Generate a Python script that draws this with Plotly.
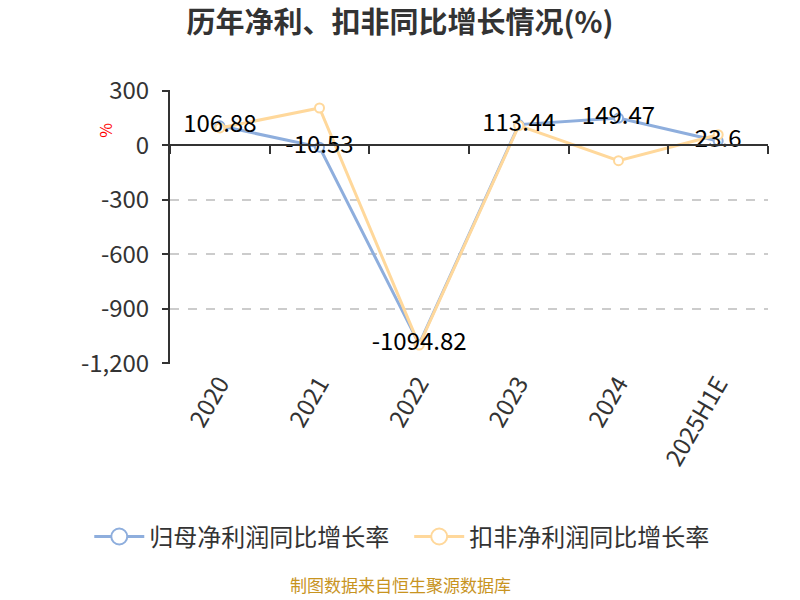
import plotly.graph_objects as go

years = ["2020", "2021", "2022", "2023", "2024", "2025H1E"]
guimu_growth = [106.88, -10.53, -1094.82, 113.44, 149.47, 23.6]
koufei_growth = [95, 205, -1100, 108, -85, 58]
y_ticks = [300, 0, -300, -600, -900, -1200]
y_ticktext = ["300", "0", "-300", "-600", "-900", "-1,200"]

blue = "#8eaedd"
orange = "#ffd89b"
font_cn = "Noto Sans CJK SC"
name_guimu = "归母净利润同比增长率"
name_koufei = "扣非净利润同比增长率"

fig = go.Figure()

fig.add_trace(go.Scatter(
    x=years, y=guimu_growth, name=name_guimu, showlegend=False,
    mode="lines+markers",
    line=dict(color=blue, width=3),
    marker=dict(size=9, color="white", line=dict(color=blue, width=2)),
))
fig.add_trace(go.Scatter(
    x=years, y=koufei_growth, name=name_koufei, showlegend=False,
    mode="lines+markers",
    line=dict(color=orange, width=3),
    marker=dict(size=9, color="white", line=dict(color=orange, width=2)),
))
# 数据标签放在最上层
fig.add_trace(go.Scatter(
    x=years, y=guimu_growth, mode="text", showlegend=False,
    text=[f"{v:g}" for v in guimu_growth],
    textposition="middle center",
    textfont=dict(size=24, color="#000000", family=font_cn),
    hoverinfo="skip",
))

# 图例用的空系列（图例里的圆圈更大）
fig.add_trace(go.Scatter(
    x=[None], y=[None], name=name_guimu, legend="legend",
    mode="lines+markers", line=dict(color=blue, width=3),
    marker=dict(size=16, color="white", line=dict(color=blue, width=2)),
))
fig.add_trace(go.Scatter(
    x=[None], y=[None], name=name_koufei, legend="legend2",
    mode="lines+markers", line=dict(color=orange, width=3),
    marker=dict(size=16, color="white", line=dict(color=orange, width=2)),
))

# 零线上的刻度轴
fig.add_trace(go.Scatter(x=[0], y=[0], xaxis="x2", yaxis="y", mode="none",
                         showlegend=False, hoverinfo="skip"))

legend_style = dict(orientation="h", yanchor="middle", y=-0.631,
                    font=dict(size=24, color="#333333"), itemwidth=50,
                    bgcolor="rgba(0,0,0,0)")

fig.update_layout(
    width=800, height=600,
    plot_bgcolor="white", paper_bgcolor="white",
    margin=dict(l=170, r=32, t=90, b=236),
    font=dict(family=font_cn, size=20, color="#333333"),
    title=dict(text="<b>历年净利、扣非同比增长情况(%)</b>", x=0.5, xanchor="center",
               y=0.962, yanchor="middle",
               font=dict(family=font_cn, size=29, color="#333333")),
    xaxis=dict(
        type="category", range=[-0.5, 5.5],
        showline=False, showgrid=False, ticks="",
        tickangle=-60, tickfont=dict(size=24, color="#333333"),
    ),
    xaxis2=dict(
        overlaying="x", anchor="free", position=0.8, side="bottom",
        range=[-0.5, 5.5], showline=True, linecolor="#333333", linewidth=2,
        tickvals=[-0.5, 0.5, 1.5, 2.5, 3.5, 4.5, 5.5], showticklabels=False,
        ticks="outside", ticklen=8, tickcolor="#333333", tickwidth=2,
        showgrid=False, zeroline=False,
    ),
    yaxis=dict(
        range=[-1204, 304], tickvals=y_ticks, ticktext=y_ticktext,
        showline=True, linecolor="#333333", linewidth=2,
        ticks="outside", ticklen=6, tickcolor="#333333", tickwidth=2,
        ticklabelstandoff=8,
        showgrid=True, gridcolor="#cccccc", griddash="dash", gridwidth=1.5,
        zeroline=False, tickfont=dict(size=24, color="#333333"),
    ),
    legend=dict(legend_style, x=-0.135, xanchor="left"),
    legend2=dict(legend_style, x=0.40, xanchor="left"),
    annotations=[
        dict(text="%", xref="paper", yref="paper", x=-0.109, y=0.854,
             xanchor="center", yanchor="middle",
             showarrow=False, textangle=-90, font=dict(size=16, color="red")),
        dict(text="制图数据来自恒生聚源数据库", xref="paper", yref="paper",
             x=0.385, y=-0.805, xanchor="center", yanchor="middle", showarrow=False,
             font=dict(size=17, color="#c8941f")),
    ],
)

# 去掉页面默认的 8px 边距，隐藏工具栏
fig.write_html("out.html", config={"displayModeBar": False},
               post_script="document.body.style.margin='0';")
